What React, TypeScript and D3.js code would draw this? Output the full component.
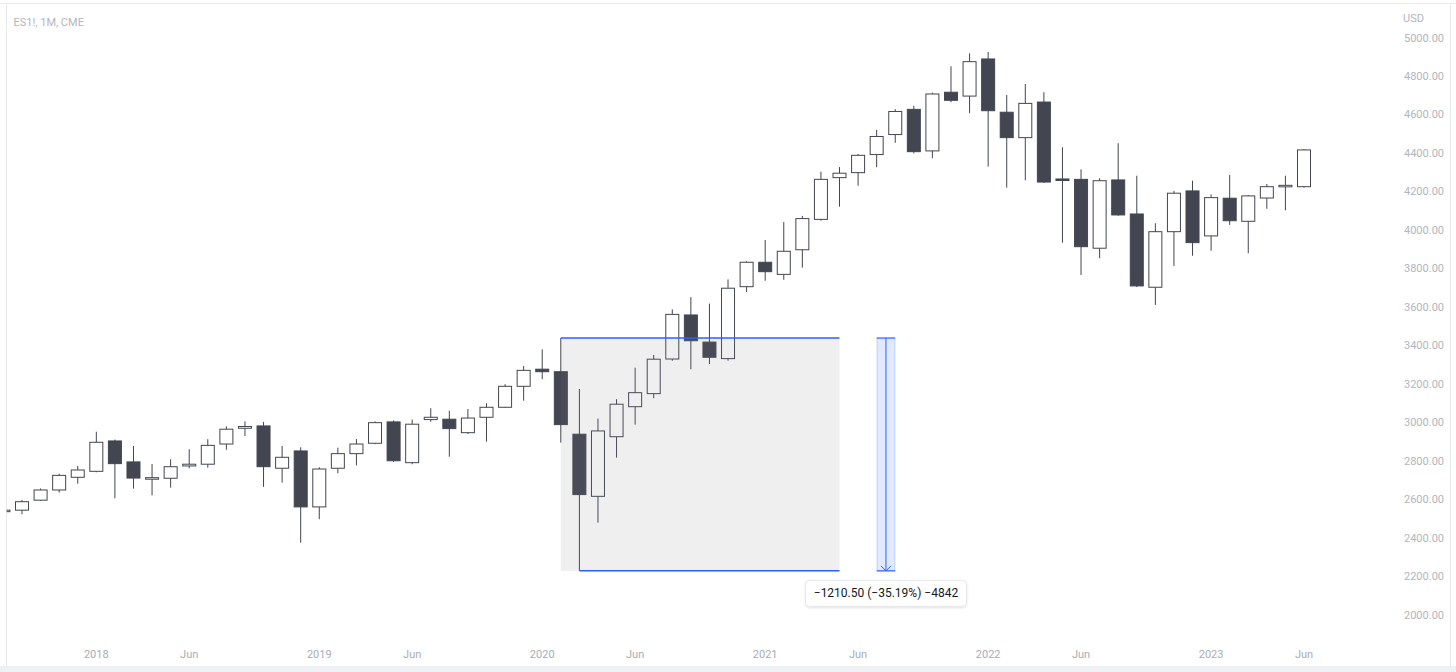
import React from 'react';
import * as d3 from 'd3';

const months = [
  '2017-08','2017-09','2017-10','2017-11','2017-12',
  '2018-01','2018-02','2018-03','2018-04','2018-05','2018-06','2018-07','2018-08','2018-09','2018-10','2018-11','2018-12',
  '2019-01','2019-02','2019-03','2019-04','2019-05','2019-06','2019-07','2019-08','2019-09','2019-10','2019-11','2019-12',
  '2020-01','2020-02','2020-03','2020-04','2020-05','2020-06','2020-07','2020-08','2020-09','2020-10','2020-11','2020-12',
  '2021-01','2021-02','2021-03','2021-04','2021-05','2021-06','2021-07','2021-08','2021-09','2021-10','2021-11','2021-12',
  '2022-01','2022-02','2022-03','2022-04','2022-05','2022-06','2022-07','2022-08','2022-09','2022-10','2022-11','2022-12',
  '2023-01','2023-02','2023-03','2023-04','2023-05','2023-06',
];

const opens = [
  2540, 2545, 2597, 2650, 2716,
  2747, 2905, 2796, 2706, 2711, 2775, 2784, 2889, 2971, 2983, 2763, 2853,
  2562, 2763, 2839, 2893, 3004, 2792, 3016, 3018, 2948, 3028, 3080, 3189,
  3278, 3265, 2940, 2617, 2927, 3083, 3151, 3331, 3560, 3419, 3333, 3707,
  3834, 3771, 3899, 4057, 4274, 4300, 4394, 4498, 4629, 4413, 4718, 4698,
  4891, 4614, 4482, 4667, 4267, 4265, 3907, 4262, 4085, 3704, 3993, 4205,
  3971, 4167, 4047, 4168, 4228, 4227,
];
const highs = [
  2556, 2598, 2658, 2735, 2775,
  2953, 2912, 2879, 2785, 2810, 2862, 2914, 2981, 3007, 3004, 2879, 2872,
  2768, 2870, 2915, 3007, 3012, 3016, 3075, 3062, 3071, 3101, 3200, 3295,
  3381, 3440, 3175, 3021, 3122, 3286, 3352, 3589, 3653, 3619, 3745, 3839,
  3950, 4043, 4075, 4305, 4329, 4397, 4522, 4630, 4648, 4716, 4853, 4920,
  4927, 4704, 4761, 4718, 4432, 4317, 4271, 4453, 4284, 4037, 4205, 4258,
  4187, 4288, 4184, 4241, 4284, 4423,
];
const lows = [
  2528, 2524, 2594, 2636, 2683,
  2742, 2607, 2657, 2622, 2662, 2763, 2766, 2859, 2931, 2666, 2688, 2376,
  2498, 2737, 2778, 2888, 2796, 2784, 3005, 2823, 2941, 2901, 3077, 3114,
  3226, 2896, 2229.5, 2480, 2818, 2990, 3127, 3322, 3278, 3305, 3322, 3679,
  3738, 3743, 3806, 4050, 4123, 4232, 4328, 4455, 4400, 4375, 4666, 4609,
  4331, 4222, 4260, 4246, 3936, 3768, 3855, 4076, 3705, 3612, 3815, 3868,
  3894, 4028, 3881, 4112, 4104, 4222,
];
const closes = [
  2545, 2589, 2650, 2726, 2754,
  2898, 2787, 2712, 2714, 2771, 2784, 2882, 2966, 2980, 2771, 2820, 2562,
  2759, 2839, 2889, 3000, 2802, 2992, 3028, 2969, 3024, 3080, 3189, 3272,
  3265, 2990, 2626, 2957, 3096, 3156, 3330, 3563, 3426, 3340, 3699, 3834,
  3785, 3891, 4061, 4265, 4297, 4390, 4488, 4618, 4409, 4709, 4676, 4877,
  4622, 4482, 4660, 4251, 4263, 3915, 4258, 4080, 3711, 3993, 4193, 3936,
  4170, 4050, 4179, 4227, 4234, 4418,
];

const priceTicks = [2000, 2200, 2400, 2600, 2800, 3000, 3200, 3400, 3600, 3800, 4000, 4200, 4400, 4600, 4800, 5000];
const timeTickMonths = ['2018-01', '2018-06', '2019-01', '2019-06', '2020-01', '2020-06', '2021-01', '2021-06', '2022-01', '2022-06', '2023-01', '2023-06'];
const timeTickLabels = ['2018', 'Jun', '2019', 'Jun', '2020', 'Jun', '2021', 'Jun', '2022', 'Jun', '2023', 'Jun'];

const symbolTitle = 'ES1!, 1M, CME';
const currency = 'USD';

// measurement tool anchors (indices into months)
const measureStartHigh = 30; // Feb 2020 high
const measureLowIdx = 31; // Mar 2020 low
const measureEndIdx = 45; // right end of range box
const measureBarIdx = [47, 48];
const tickSize = 0.25;

const W = 1456;
const H = 672;
const FONT = 'Roboto, "Noto Sans", sans-serif';
const DARK = '#434651';
const BLUE = '#2962ff';

export default function App() {
  const x = d3.scalePoint<string>().domain(months).range([3.42, 1304]);
  const y = d3.scaleLinear().domain([2000, 5000]).range([615, 38]);
  const bodyW = 13;

  const candles = months.map((m, i) => ({
    m,
    o: opens[i],
    h: highs[i],
    l: lows[i],
    c: closes[i],
  }));

  const mHigh = highs[measureStartHigh];
  const mLow = lows[measureLowIdx];
  const diff = mLow - mHigh;
  const pct = (diff / mHigh) * 100;
  const ticks = Math.round(diff / tickSize);
  const minus = (v: number, d: number) => (v < 0 ? '\u2212' : '') + Math.abs(v).toFixed(d);
  const labelText = `${minus(diff, 2)} (${minus(pct, 2)}%) ${minus(ticks, 0)}`;

  const bx1 = x(months[measureStartHigh])!;
  const bxLow = x(months[measureLowIdx])!;
  const bx2 = x(months[measureEndIdx])!;
  const yTop = y(mHigh);
  const yBot = y(mLow);
  const vb1 = x(months[measureBarIdx[0]])!;
  const vb2 = x(months[measureBarIdx[1]])!;
  const vbc = (vb1 + vb2) / 2;
  const labelW = 161;
  const labelH = 26;
  const labelY = yBot + 9.5;

  return (
    <div style={{ position: 'absolute', left: 0, top: 0, width: W, height: H, background: '#fff' }}>
      <svg width={W} height={H} style={{ display: 'block' }}>
        <defs>
          <clipPath id="plotClip">
            <rect x={6.5} y={4.5} width={1380} height={630} />
          </clipPath>
          <filter id="shadow" x="-10%" y="-30%" width="120%" height="160%">
            <feDropShadow dx="0" dy="1" stdDeviation="1.2" floodColor="#000" floodOpacity="0.12" />
          </filter>
        </defs>
        <rect x={0} y={0} width={W} height={H} fill="#fff" />
        {/* frame */}
        <rect x={0} y={666} width={W} height={6} fill="#eff0f3" />
        <line x1={0} x2={W} y1={3.5} y2={3.5} stroke="#e9eaee" strokeWidth={1} />
        <line x1={6.5} x2={6.5} y1={3.5} y2={666} stroke="#e9eaee" strokeWidth={1} />
        <line x1={1450.5} x2={1450.5} y1={3.5} y2={666} stroke="#e9eaee" strokeWidth={1} />

        <g clipPath="url(#plotClip)">
          {/* wicks */}
          {candles.map((d) => (
            <line
              key={'w' + d.m}
              x1={x(d.m)!}
              x2={x(d.m)!}
              y1={y(d.h)}
              y2={y(d.l)}
              stroke={DARK}
              strokeWidth={1}
            />
          ))}
          {/* bodies */}
          {candles.map((d) => {
            const up = d.c >= d.o;
            const top = y(Math.max(d.o, d.c));
            const bot = y(Math.min(d.o, d.c));
            const hgt = Math.max(bot - top, 1.5);
            return (
              <rect
                key={'b' + d.m}
                x={x(d.m)! - bodyW / 2}
                y={top}
                width={bodyW}
                height={hgt}
                fill={up ? '#ffffff' : DARK}
                stroke={DARK}
                strokeWidth={1}
              />
            );
          })}

          {/* price range box */}
          <rect x={bx1} y={yTop} width={bx2 - bx1} height={yBot - yTop} fill="rgba(120,123,134,0.12)" />
          <line x1={bx1} x2={bx2} y1={yTop} y2={yTop} stroke={BLUE} strokeWidth={1.5} />
          <line x1={bxLow} x2={bx2} y1={yBot} y2={yBot} stroke={BLUE} strokeWidth={1.5} />

          {/* vertical measure bar */}
          <rect x={vb1} y={yTop} width={vb2 - vb1} height={yBot - yTop} fill="rgba(41,98,255,0.14)" />
          <line x1={vb1 + 0.5} x2={vb1 + 0.5} y1={yTop} y2={yBot} stroke="rgba(41,98,255,0.18)" strokeWidth={1} />
          <line x1={vb2 - 0.5} x2={vb2 - 0.5} y1={yTop} y2={yBot} stroke="rgba(41,98,255,0.18)" strokeWidth={1} />
          <line x1={vb1} x2={vb2} y1={yTop} y2={yTop} stroke={BLUE} strokeWidth={1.2} />
          <line x1={vb1} x2={vb2} y1={yBot} y2={yBot} stroke={BLUE} strokeWidth={1.2} />
          <line x1={vbc} x2={vbc} y1={yTop} y2={yBot} stroke={BLUE} strokeWidth={1} />
          <path
            d={`M${vbc - 5},${yBot - 5} L${vbc},${yBot} L${vbc + 5},${yBot - 5}`}
            fill="none"
            stroke={BLUE}
            strokeWidth={1}
          />
        </g>

        {/* measure label */}
        <g filter="url(#shadow)">
          <rect
            x={vbc - labelW / 2}
            y={labelY}
            width={labelW}
            height={labelH}
            rx={4}
            fill="#fff"
            stroke="#e6e7eb"
            strokeWidth={1}
          />
        </g>
        <text
          x={vbc}
          y={labelY + labelH / 2}
          textAnchor="middle"
          dominantBaseline="central"
          fontFamily={FONT}
          fontSize={12}
          fill="#131722"
        >
          {labelText}
        </text>

        {/* title */}
        <text x={13.5} y={22} dominantBaseline="central" fontFamily={FONT} fontSize={11} fill="#b2b5be">
          {symbolTitle}
        </text>

        {/* price axis */}
        <text x={1403} y={18.5} dominantBaseline="central" fontFamily={FONT} fontSize={11} fill="#b2b5be">
          {currency}
        </text>
        {priceTicks.map((t) => (
          <text
            key={'p' + t}
            x={1444}
            y={y(t)}
            textAnchor="end"
            dominantBaseline="central"
            fontFamily={FONT}
            fontSize={11}
            fill="#b2b5be"
          >
            {t.toFixed(2)}
          </text>
        ))}

        {/* time axis */}
        {timeTickMonths.map((m, i) => (
          <text
            key={'t' + m}
            x={x(m)!}
            y={654}
            textAnchor="middle"
            dominantBaseline="central"
            fontFamily={FONT}
            fontSize={11}
            fill="#a9acb6"
          >
            {timeTickLabels[i]}
          </text>
        ))}
      </svg>
    </div>
  );
}
